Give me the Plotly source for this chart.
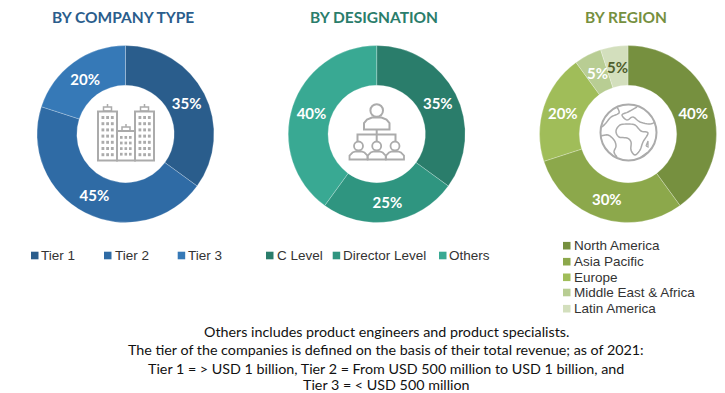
import math
import plotly.graph_objects as go

W, H = 725, 393

# ---- data ----
company_labels = ["Tier 1", "Tier 2", "Tier 3"]
company_values = [35, 45, 20]
company_colors = ["#2a5d8c", "#2f6ba5", "#3679b7"]

designation_labels = ["C Level", "Director Level", "Others"]
designation_values = [35, 25, 40]
designation_colors = ["#2a7d6b", "#2f9580", "#39a993"]

region_labels = ["North America", "Asia Pacific", "Europe", "Middle East & Africa", "Latin America"]
region_values = [40, 30, 20, 5, 5]
region_colors = ["#76903f", "#8ca84b", "#a0bd59", "#b8cd93", "#d3dfbd"]
region_text_colors = ["white", "white", "white", "white", "#4f5e2c"]

titles = ["BY COMPANY TYPE", "BY DESIGNATION", "BY REGION"]
title_colors = ["#2a5d8c", "#2a7d6b", "#76903f"]
footer_lines = [
    "Others includes product engineers and product specialists.",
    "The tier of the companies is defined on the basis of their total revenue; as of 2021:",
    "Tier 1 = > USD 1 billion, Tier 2 = From USD 500 million to USD 1 billion, and",
    "Tier 3 = < USD 500 million",
]

LABEL_FONT = "Lato"
LABEL_SIZE = 15
GRAY = "#ababab"


def px(x):
    return x / W


def py(y):
    return 1 - y / H


fig = go.Figure()
R = 88.5


def donut(cx, cy, labels, values, colors, template="%{percent}"):
    fig.add_trace(go.Pie(
        labels=labels, values=values, hole=0.55, sort=False, direction="clockwise",
        rotation=0, showlegend=False, texttemplate=template,
        textposition="inside", insidetextorientation="horizontal",
        insidetextfont=dict(family=LABEL_FONT, size=LABEL_SIZE, color="white", weight="bold"),
        marker=dict(colors=colors, line=dict(color="rgba(255,255,255,0.35)", width=0.7)),
        domain=dict(x=[px(cx - R), px(cx + R)], y=[py(cy + R), py(cy - R)]),
        hoverinfo="label+percent",
    ))


donut(125.5, 134, company_labels, company_values, company_colors)
donut(376.7, 134, designation_labels, designation_values, designation_colors)
# the two thinnest wedges get their labels below, since the pie would shrink them
donut(628, 134, region_labels, region_values, region_colors,
      ["%{percent}" if v > 5 else " " for v in region_values])

shapes = []
annotations = []


def text(x, y, s, size, color, family, anchor="center", bold=False):
    annotations.append(dict(
        x=px(x), y=py(y), xref="paper", yref="paper", text=s, showarrow=False,
        xanchor=anchor, yanchor="middle", align=anchor if anchor != "center" else "center",
        borderpad=0, font=dict(family=family, size=size, color=color, weight="bold" if bold else "normal"),
    ))


for tx, t, c in zip([123.3, 373.8, 625.8], titles, title_colors):
    text(tx, 17.5, t, 15.5, c, "Lato", bold=True)

for i, line in enumerate(footer_lines):
    text(386, [331, 349.5, 368, 384.3][i], line, 14.3, "#111111", "Lato")

# labels of the thin region wedges, placed at each wedge's mid-angle
total = sum(region_values)
cum = 0
for v, col in zip(region_values, region_text_colors):
    if v <= 5:
        a = 2 * math.pi * (cum + v / 2) / total
        text(628 + 68 * math.sin(a), 134 - 68 * math.cos(a), f"{v}%", LABEL_SIZE, col, LABEL_FONT, bold=True)
    cum += v


def swatch(x, y, color):
    shapes.append(dict(type="rect", xref="paper", yref="paper", x0=px(x), x1=px(x + 7.5),
                       y0=py(y + 3.8), y1=py(y - 3.8), fillcolor=color, line=dict(width=0), layer="above"))


def legend_item(mx, tx, y, label, color):
    swatch(mx, y, color)
    text(tx, y, label, 13.5, "#333333", "Liberation Sans", anchor="left")


for mx, tx, lab, col in zip([31, 104, 177.7], [40, 113.5, 187], company_labels, company_colors):
    legend_item(mx, tx, 255.5, lab, col)
for mx, tx, lab, col in zip([266, 332.7, 439], [275.7, 342, 448], designation_labels, designation_colors):
    legend_item(mx, tx, 255.5, lab, col)
for y, lab, col in zip([245.7, 261.7, 277.3, 292.5, 308.7], region_labels, region_colors):
    legend_item(563, 572.5, y, lab, col)


# ---- centre icons (decoration) ----
def path(points, close=False, width=2, fill=None, color=GRAY):
    d = "M " + " L ".join(f"{px(x):.5f},{py(y):.5f}" for x, y in points)
    if close:
        d += " Z"
    shapes.append(dict(type="path", xref="paper", yref="paper", path=d,
                       line=dict(color=color, width=width), fillcolor=fill or "rgba(0,0,0,0)", layer="above"))


def smooth(points, width=2):
    # Catmull-Rom through hand-placed outline points
    pts = points
    out = []
    n = len(pts)
    for i in range(n - 1):
        p0 = pts[max(i - 1, 0)]
        p1 = pts[i]
        p2 = pts[i + 1]
        p3 = pts[min(i + 2, n - 1)]
        for k in range(6):
            t = k / 6
            x = 0.5 * (2 * p1[0] + (p2[0] - p0[0]) * t + (2 * p0[0] - 5 * p1[0] + 4 * p2[0] - p3[0]) * t * t + (3 * p1[0] - p0[0] - 3 * p2[0] + p3[0]) * t ** 3)
            y = 0.5 * (2 * p1[1] + (p2[1] - p0[1]) * t + (2 * p0[1] - 5 * p1[1] + 4 * p2[1] - p3[1]) * t * t + (3 * p1[1] - p0[1] - 3 * p2[1] + p3[1]) * t ** 3)
            out.append((x, y))
    out.append(pts[-1])
    path(out, width=width)


def circle(cx, cy, r, width=2):
    shapes.append(dict(type="circle", xref="paper", yref="paper", x0=px(cx - r), x1=px(cx + r),
                       y0=py(cy + r), y1=py(cy - r), line=dict(color=GRAY, width=width), layer="above"))


def rect(x0, y0, x1, y1, width=2, fill=None):
    shapes.append(dict(type="rect", xref="paper", yref="paper", x0=px(x0), x1=px(x1), y0=py(y1), y1=py(y0),
                       line=dict(color=GRAY, width=width), fillcolor=fill or "rgba(0,0,0,0)", layer="above"))


# buildings
rect(98, 111.5, 117, 160.5)
rect(135, 111.5, 154, 160.5)
rect(117, 131, 135, 160.5)
for bx in (107.5, 144.5):
    rect(bx - 4, 107, bx + 4, 111, width=1.5)
    path([(bx, 104), (bx, 107)], width=1.5)
rect(122, 127, 130, 131, width=1.5)
path([(126, 124), (126, 127)], width=1.5)
for left in (101.5, 138.5):
    for c in range(3):
        for r_ in range(7):
            rect(left + c * 4.7, 116 + r_ * 6.2, left + c * 4.7 + 2.8, 116 + r_ * 6.2 + 3, width=0, fill=GRAY)
for c in range(3):
    for r_ in range(4):
        rect(120 + c * 4.5, 136 + r_ * 5.6, 120 + c * 4.5 + 2.6, 136 + r_ * 5.6 + 2.8, width=0, fill=GRAY)

# people
circle(376.7, 110.5, 6.3)
path([(364, 129.5), (364, 123), (367, 119.5), (372, 117.5), (381.5, 117.5), (386.5, 119.5), (389.5, 123), (389.5, 129.5)], close=True)
path([(376.7, 129.5), (376.7, 141)])
path([(357.5, 141), (357.5, 134.5), (395.5, 134.5), (395.5, 141)])
for x in (358.5, 376.7, 395):
    circle(x, 146, 4.5, width=1.8)
    path([(x - 9, 159.5), (x - 9, 155.5), (x - 6, 152.5), (x - 3, 151.5), (x + 3, 151.5), (x + 6, 152.5), (x + 9, 155.5), (x + 9, 159.5)], close=True, width=1.8)

# globe
circle(628.5, 132.5, 28)
smooth([(617, 107), (619, 113), (611, 117), (606, 123), (602, 127)], width=1.5)
smooth([(601, 136), (608, 135), (614, 140), (616, 146), (614, 152), (617, 157)], width=1.5)
smooth([(637, 107), (628, 112), (622, 115), (627, 120), (633, 117), (640, 122), (650, 124), (655, 122)], width=1.5)
smooth([(628, 124), (620, 125), (616, 131), (619, 137), (627, 138), (631, 142), (631, 150), (635, 155), (640, 150), (643, 142), (648, 133), (641, 131), (635, 125), (628, 124)], width=1.5)
path([(646, 146), (648, 141), (648, 147), (646, 146)], width=1.3)
path([(641, 157), (647, 153)], width=1.5)

fig.update_layout(
    width=W, height=H, margin=dict(l=0, r=0, t=0, b=0), autosize=False,
    paper_bgcolor="white", plot_bgcolor="white", showlegend=False,
    shapes=shapes, annotations=annotations,
)
fig.write_html("out.html", config={"displayModeBar": False},
               post_script="document.body.style.margin='0';document.body.style.overflow='hidden';")
